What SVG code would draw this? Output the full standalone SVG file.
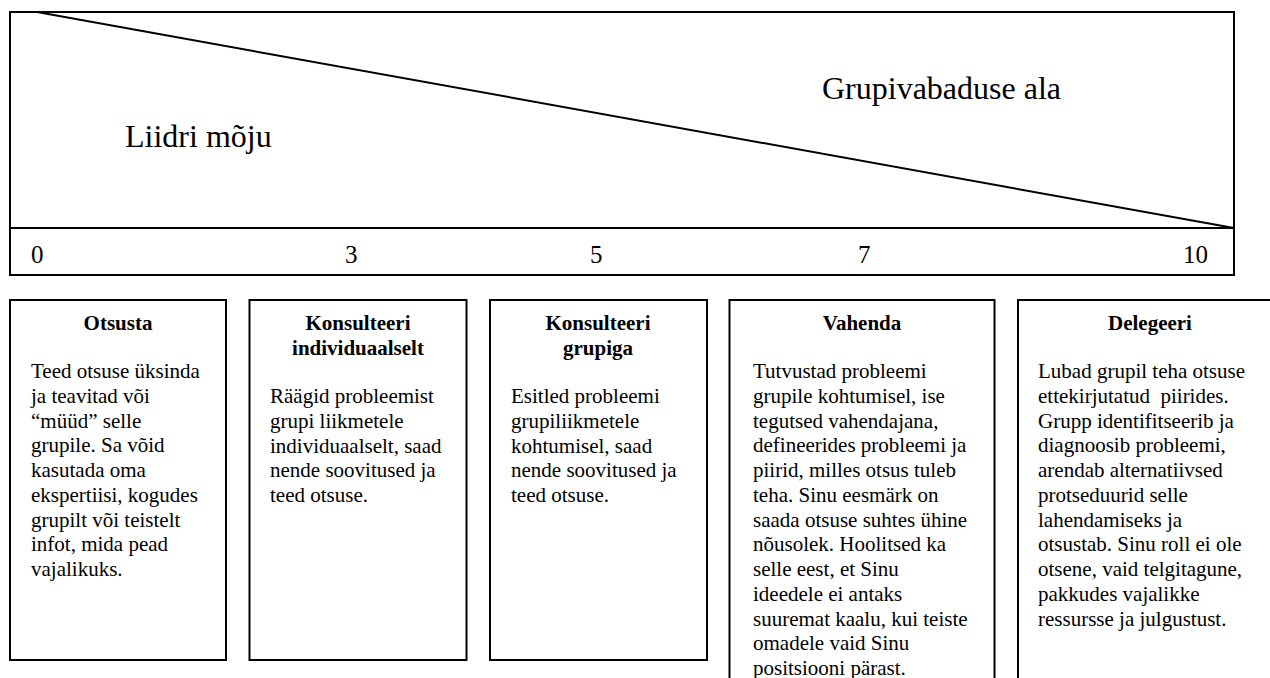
<svg xmlns="http://www.w3.org/2000/svg" width="1270" height="678" viewBox="0 0 1270 678">
  <style>
    .frame { fill: #fff; stroke: #000; stroke-width: 2; }
    .line { fill: none; stroke: #000; stroke-width: 2; }
    .big { font-family: "Liberation Serif", "Times New Roman", serif; font-size: 32px; fill: #000; }
    .num { font-family: "Liberation Serif", "Times New Roman", serif; font-size: 25px; fill: #000; }
    .title { font-family: "Liberation Serif", "Times New Roman", serif; font-size: 21px; font-weight: bold; fill: #000; text-anchor: middle; }
    .body { font-family: "Liberation Serif", "Times New Roman", serif; font-size: 21px; fill: #000; white-space: pre; }
  </style>
  <rect width="1270" height="678" fill="#fff"/>

  <!-- scale: leader influence vs. group freedom -->
  <g id="scale">
    <rect class="frame" x="10" y="12" width="1224" height="263"/>
    <line class="line" x1="10" y1="228" x2="1234" y2="228"/>
    <line class="line" x1="37" y1="12" x2="1234" y2="228"/>
    <text class="big" x="125" y="147">Liidri mõju</text>
    <text class="big" x="822" y="99">Grupivabaduse ala</text>
    <text class="num" x="31" y="263">0</text>
    <text class="num" x="345" y="263">3</text>
    <text class="num" x="590" y="263">5</text>
    <text class="num" x="858" y="263">7</text>
    <text class="num" x="1183" y="263">10</text>
  </g>

  <g id="connectors"></g>

  <g id="otsusta">
    <rect class="frame" x="10" y="300" width="216" height="360"/>
    <text class="title" x="118" y="330">Otsusta</text>
    <text class="body" x="31" y="378">
      <tspan x="31" dy="0">Teed otsuse üksinda</tspan>
      <tspan x="31" dy="24.75">ja teavitad või</tspan>
      <tspan x="31" dy="24.75">“müüd” selle</tspan>
      <tspan x="31" dy="24.75">grupile. Sa võid</tspan>
      <tspan x="31" dy="24.75">kasutada oma</tspan>
      <tspan x="31" dy="24.75">ekspertiisi, kogudes</tspan>
      <tspan x="31" dy="24.75">grupilt või teistelt</tspan>
      <tspan x="31" dy="24.75">infot, mida pead</tspan>
      <tspan x="31" dy="24.75">vajalikuks.</tspan>
    </text>
  </g>

  <g id="konsulteeri-individuaalselt">
    <rect class="frame" x="249.5" y="300" width="217" height="360"/>
    <text class="title" x="358" y="330">Konsulteeri</text>
    <text class="title" x="358" y="355">individuaalselt</text>
    <text class="body" x="270" y="403">
      <tspan x="270" dy="0">Räägid probleemist</tspan>
      <tspan x="270" dy="24.75">grupi liikmetele</tspan>
      <tspan x="270" dy="24.75">individuaalselt, saad</tspan>
      <tspan x="270" dy="24.75">nende soovitused ja</tspan>
      <tspan x="270" dy="24.75">teed otsuse.</tspan>
    </text>
  </g>

  <g id="konsulteeri-grupiga">
    <rect class="frame" x="490" y="300" width="217" height="360"/>
    <text class="title" x="598" y="330">Konsulteeri</text>
    <text class="title" x="598" y="355">grupiga</text>
    <text class="body" x="511" y="403">
      <tspan x="511" dy="0">Esitled probleemi</tspan>
      <tspan x="511" dy="24.75">grupiliikmetele</tspan>
      <tspan x="511" dy="24.75">kohtumisel, saad</tspan>
      <tspan x="511" dy="24.75">nende soovitused ja</tspan>
      <tspan x="511" dy="24.75">teed otsuse.</tspan>
    </text>
  </g>

  <g id="vahenda">
    <rect class="frame" x="729.5" y="300" width="265" height="400"/>
    <text class="title" x="862" y="330">Vahenda</text>
    <text class="body" x="753" y="378">
      <tspan x="753" dy="0">Tutvustad probleemi</tspan>
      <tspan x="753" dy="24.75">grupile kohtumisel, ise</tspan>
      <tspan x="753" dy="24.75">tegutsed vahendajana,</tspan>
      <tspan x="753" dy="24.75">defineerides probleemi ja</tspan>
      <tspan x="753" dy="24.75">piirid, milles otsus tuleb</tspan>
      <tspan x="753" dy="24.75">teha. Sinu eesmärk on</tspan>
      <tspan x="753" dy="24.75">saada otsuse suhtes ühine</tspan>
      <tspan x="753" dy="24.75">nõusolek. Hoolitsed ka</tspan>
      <tspan x="753" dy="24.75">selle eest, et Sinu</tspan>
      <tspan x="753" dy="24.75">ideedele ei antaks</tspan>
      <tspan x="753" dy="24.75">suuremat kaalu, kui teiste</tspan>
      <tspan x="753" dy="24.75">omadele vaid Sinu</tspan>
      <tspan x="753" dy="24.75">positsiooni pärast.</tspan>
    </text>
  </g>

  <g id="delegeeri">
    <rect class="frame" x="1018" y="300" width="280" height="400"/>
    <text class="title" x="1150" y="330">Delegeeri</text>
    <text class="body" x="1038" y="378">
      <tspan x="1038" dy="0">Lubad grupil teha otsuse</tspan>
      <tspan x="1038" dy="24.75">ettekirjutatud  piirides.</tspan>
      <tspan x="1038" dy="24.75">Grupp identifitseerib ja</tspan>
      <tspan x="1038" dy="24.75">diagnoosib probleemi,</tspan>
      <tspan x="1038" dy="24.75">arendab alternatiivsed</tspan>
      <tspan x="1038" dy="24.75">protseduurid selle</tspan>
      <tspan x="1038" dy="24.75">lahendamiseks ja</tspan>
      <tspan x="1038" dy="24.75">otsustab. Sinu roll ei ole</tspan>
      <tspan x="1038" dy="24.75">otsene, vaid telgitagune,</tspan>
      <tspan x="1038" dy="24.75">pakkudes vajalikke</tspan>
      <tspan x="1038" dy="24.75">ressursse ja julgustust.</tspan>
    </text>
  </g>
</svg>
